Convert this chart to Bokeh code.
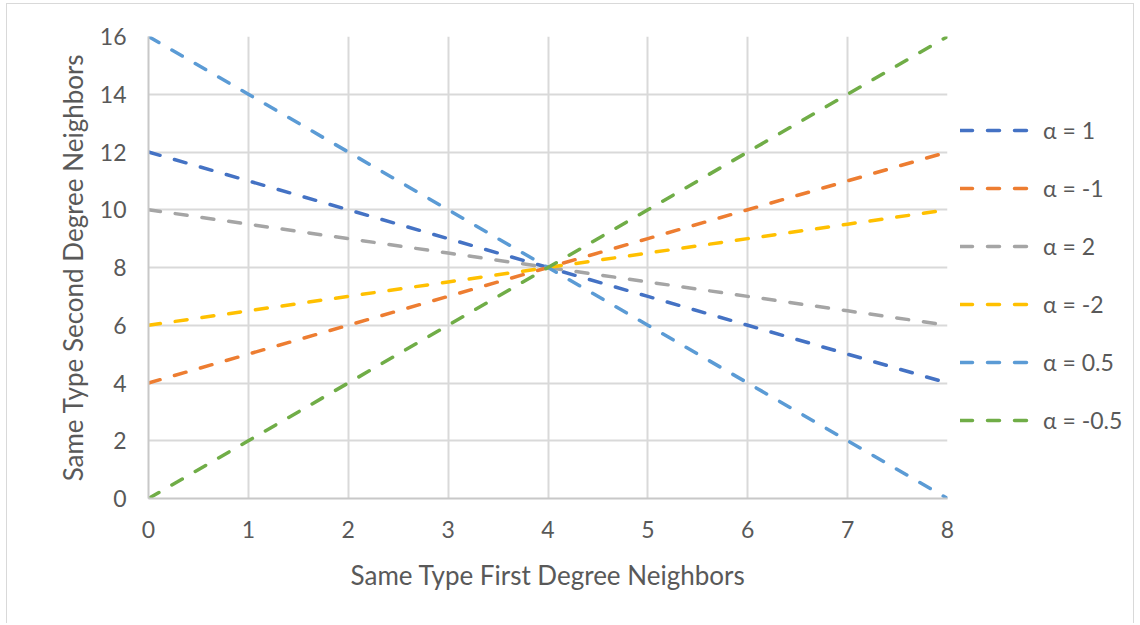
from bokeh.plotting import figure
from bokeh.models import Legend, LegendItem, FixedTicker
from bokeh.embed import file_html
from bokeh.resources import INLINE

x_vals = [0, 1, 2, 3, 4, 5, 6, 7, 8]
series_names = ["α = 1", "α = -1", "α = 2", "α = -2", "α = 0.5", "α = -0.5"]
y_alpha_1 = [12, 11, 10, 9, 8, 7, 6, 5, 4]
y_alpha_m1 = [4, 5, 6, 7, 8, 9, 10, 11, 12]
y_alpha_2 = [10, 9.5, 9, 8.5, 8, 7.5, 7, 6.5, 6]
y_alpha_m2 = [6, 6.5, 7, 7.5, 8, 8.5, 9, 9.5, 10]
y_alpha_05 = [16, 14, 12, 10, 8, 6, 4, 2, 0]
y_alpha_m05 = [0, 2, 4, 6, 8, 10, 12, 14, 16]
series_values = [y_alpha_1, y_alpha_m1, y_alpha_2, y_alpha_m2, y_alpha_05, y_alpha_m05]
colors = ["#4472C4", "#ED7D31", "#A5A5A5", "#FFC000", "#5B9BD5", "#70AD47"]
x_ticks = [0, 1, 2, 3, 4, 5, 6, 7, 8]
y_ticks = [0, 2, 4, 6, 8, 10, 12, 14, 16]

FONT = "Lato"
TXT = "#595959"
TICK_FS = "23px"
TITLE_FS = "26px"

p = figure(frame_width=799, frame_height=462, output_backend="svg", toolbar_location=None,
           x_range=(0, 8), y_range=(0, 16),
           min_border_left=148, min_border_right=0, min_border_top=36, min_border_bottom=125)
p.outline_line_color = None
p.background_fill_color = "white"
p.border_fill_color = "white"
p.border_fill_alpha = 0
g = "linear-gradient(#d9d9d9,#d9d9d9)"
p.styles = {"background": f"{g} 6px 3px / 1px 700px no-repeat, {g} 6px 3px / 1128px 1px no-repeat, "
                          f"{g} 1133px 3px / 1px 700px no-repeat, white"}

for ax in (p.xaxis[0], p.yaxis[0]):
    ax.major_tick_line_color = None
    ax.minor_tick_line_color = None
    ax.major_tick_out = 0
    ax.major_tick_in = 0
    ax.axis_line_color = "#c8c8c8"
    ax.axis_line_width = 2
    ax.major_label_text_font = FONT
    ax.major_label_text_font_size = TICK_FS
    ax.major_label_text_color = TXT
    ax.axis_label_text_font = FONT
    ax.axis_label_text_font_size = TITLE_FS
    ax.axis_label_text_color = TXT
    ax.axis_label_text_font_style = "normal"

p.xaxis.ticker = FixedTicker(ticks=x_ticks)
p.yaxis.ticker = FixedTicker(ticks=y_ticks)
p.xaxis.axis_label = "Same Type First Degree Neighbors"
p.yaxis.axis_label = "Same Type Second Degree Neighbors"
p.xaxis.major_label_standoff = 22
p.xaxis.axis_label_standoff = 18
p.yaxis.major_label_standoff = 22
p.yaxis.axis_label_standoff = 8

p.xgrid.ticker = FixedTicker(ticks=x_ticks)
p.ygrid.ticker = FixedTicker(ticks=y_ticks)
for gr in (p.xgrid[0], p.ygrid[0]):
    gr.grid_line_color = "#d9d9d9"
    gr.grid_line_width = 2

items = []
for name, ys, c in zip(series_names, series_values, colors):
    r = p.line(x_vals, ys, line_color=c, line_width=3.5, line_dash="12 15", line_cap="round")
    items.append(LegendItem(label=name, renderers=[r]))

legend = Legend(items=items, location="top_left", padding=0, margin=13,
                title=" ", title_text_font_size="1px", title_standoff=66,
                glyph_width=74, glyph_height=28, label_height=28, spacing=30,
                label_standoff=9, label_text_font=FONT, label_text_font_size=TICK_FS,
                label_text_color=TXT, border_line_color=None, background_fill_alpha=0)
p.add_layout(legend, "right")

open("out.html", "w").write(file_html(p, INLINE))
